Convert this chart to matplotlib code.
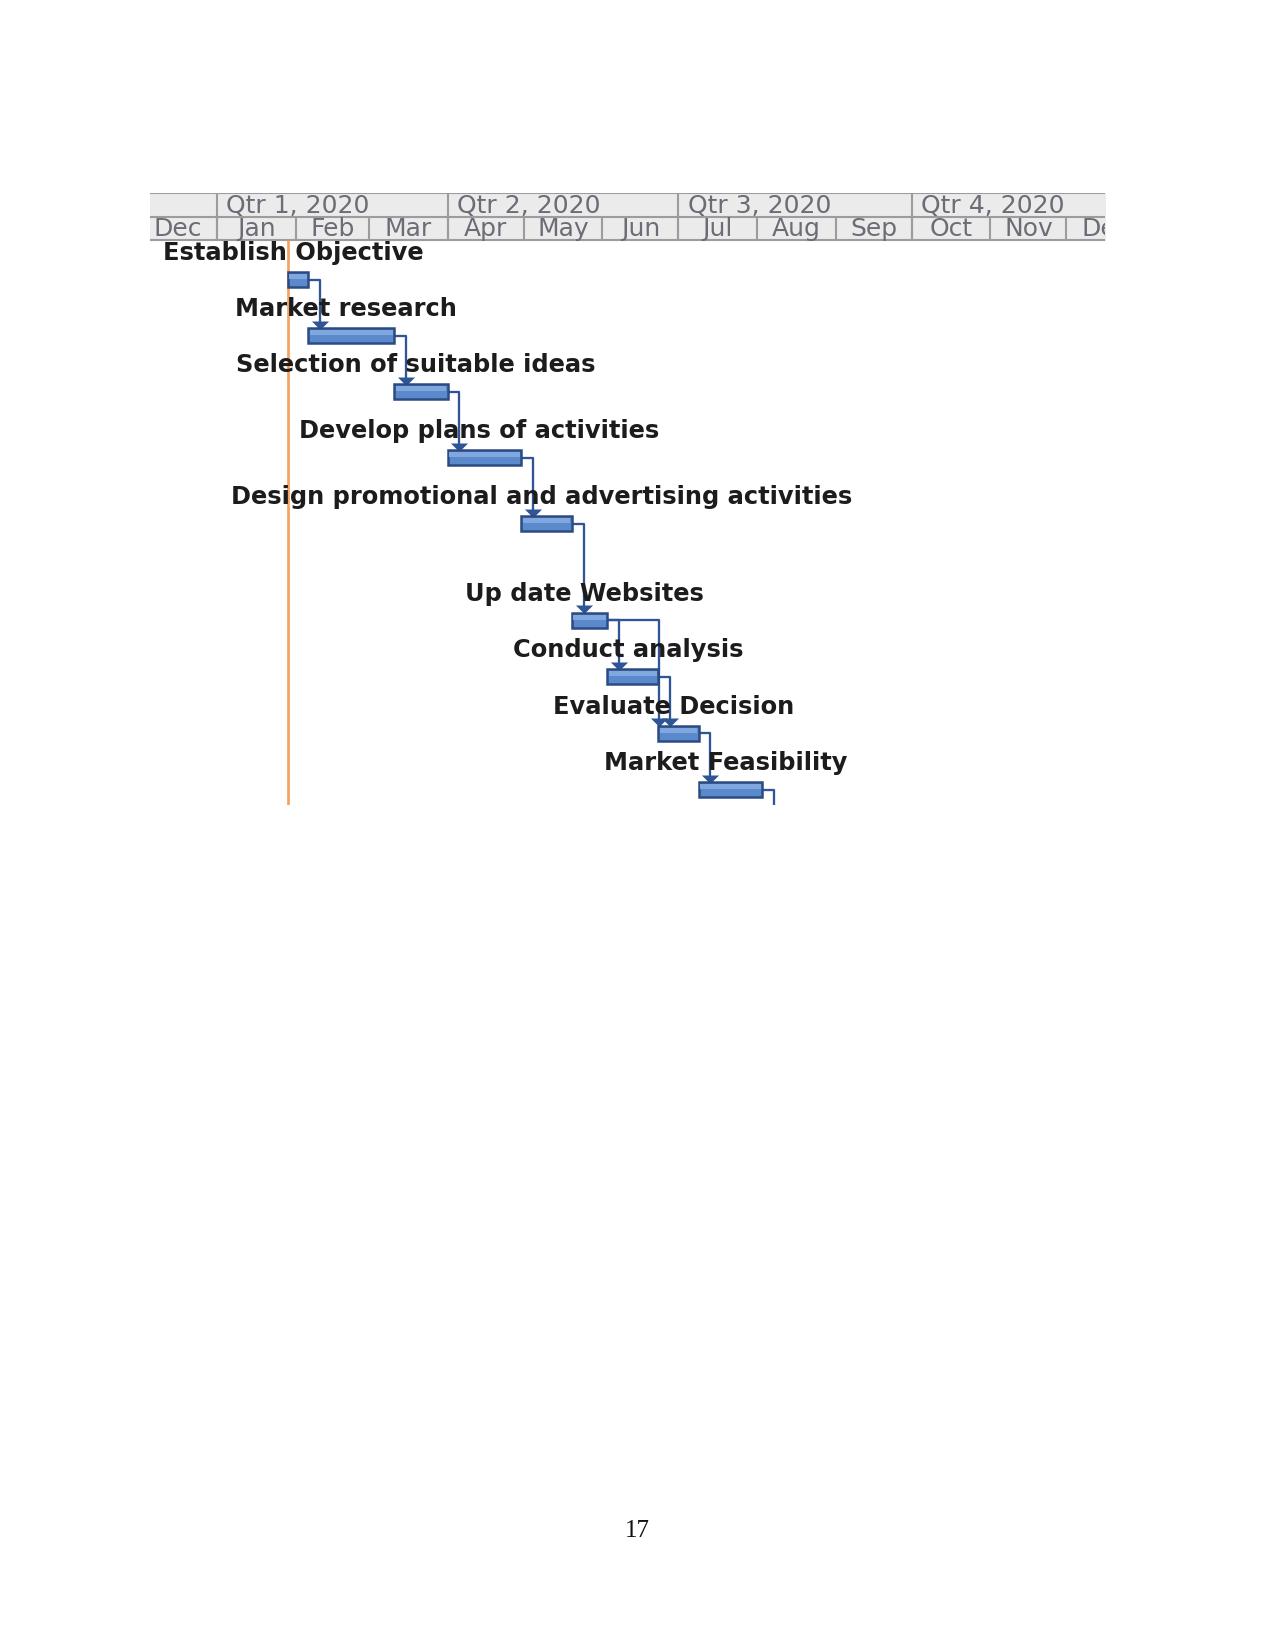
import matplotlib.pyplot as plt
import numpy as np
import pandas as pd

tasks = ['Establish Objective', 'Market research', 'Selection of suitable ideas',
         'Develop plans of activities', 'Design promotional and advertising activities',
         'Up date Websites', 'Conduct analysis', 'Evaluate Decision', 'Market Feasibility']
starts = ['2020-01-29', '2020-02-06', '2020-03-11', '2020-04-01', '2020-04-30',
          '2020-05-20', '2020-06-03', '2020-06-23', '2020-07-09']
finishes = ['2020-02-06', '2020-03-11', '2020-04-01', '2020-04-30', '2020-05-20',
            '2020-06-03', '2020-06-23', '2020-07-09', '2020-08-03']
# predecessor -> successor, None means the successor sits below the visible window
links = [(0, 1), (1, 2), (2, 3), (3, 4), (4, 5), (5, 6), (5, 7), (6, 7), (7, 8), (8, None)]
status_date = '2020-01-29'
quarter_labels = ['Qtr 4, 2019', 'Qtr 1, 2020', 'Qtr 2, 2020', 'Qtr 3, 2020', 'Qtr 4, 2020']
month_labels = ['Dec', 'Jan', 'Feb', 'Mar', 'Apr', 'May', 'Jun', 'Jul', 'Aug', 'Sep',
                'Oct', 'Nov', 'Dec']

# row centres in the gantt view (rows are not evenly spaced in the source)
row_y = [86.5, 142.5, 198.5, 264.5, 330.5, 427, 483.5, 540, 596.5]

base = pd.Timestamp('2020-01-01')


def to_day(d):
    return (pd.Timestamp(d) - base).days


start_d = np.array([to_day(d) for d in starts], dtype=float)
end_d = np.array([to_day(d) for d in finishes], dtype=float)
row_y = np.array(row_y)

BAR_H = 15
HDR_Q = 24
HDR_M = 47
BOTTOM = 612
LINK_OFF = 4.6
LINK_COLOR = '#2f5597'
HDR_TEXT = '#6c6c76'

fig = plt.figure(figsize=(8.5, 1651 / 150), dpi=150)
ax = fig.add_axes([150 / 1275, 1 - 805 / 1651, 955 / 1275, 612 / 1651])
ax.set_xlim(-26.4, 350.2)
ax.set_ylim(BOTTOM, 0)
ax.axis('off')

# ---- timescale header
ax.fill_between([-40, 400], 0, HDR_M, color='#ebebeb', zorder=1)
ax.hlines([0, HDR_Q, HDR_M], -40, 400, color='#9c9c9c', lw=1.0, zorder=2)
q_starts = pd.date_range('2019-10-01', periods=len(quarter_labels), freq='QS')
m_starts = pd.date_range('2019-12-01', periods=len(month_labels) + 1, freq='MS')
q_x = [to_day(d) for d in q_starts]
m_x = [to_day(d) for d in m_starts]
ax.vlines(q_x, 0, HDR_M, color='#9c9c9c', lw=1.0, zorder=2)
ax.vlines(m_x, HDR_Q, HDR_M, color='#9c9c9c', lw=1.0, zorder=2)
for x, lab in zip(q_x, quarter_labels):
    ax.text(x + 3.6, HDR_Q / 2 + 0.5, lab, ha='left', va='center', fontsize=12,
            color=HDR_TEXT, clip_on=True, zorder=3)
for x0, x1, lab in zip(m_x[:-1], m_x[1:], month_labels):
    ax.text((x0 + x1) / 2, (HDR_Q + HDR_M) / 2 + 0.5, lab, ha='center', va='center',
            fontsize=12, color=HDR_TEXT, clip_on=True, zorder=3)

# ---- status date line
ax.vlines(to_day(status_date), HDR_M, BOTTOM, color='#f4a261', lw=1.3, zorder=2)

# ---- links
for p, s in links:
    x0 = end_d[p]
    y0 = row_y[p]
    if s is None:
        xv = x0 + LINK_OFF
        ax.plot([x0, xv, xv], [y0, y0, BOTTOM], color=LINK_COLOR, lw=1.1, zorder=4,
                solid_joinstyle='round')
        continue
    if start_d[s] > x0 + LINK_OFF:
        xv = start_d[s] + 0.5
    else:
        xv = x0 + LINK_OFF
    y_top = row_y[s] - BAR_H / 2 - 7.5
    ax.plot([x0, xv, xv], [y0, y0, y_top], color=LINK_COLOR, lw=1.1, zorder=4,
            solid_joinstyle='round')
    ax.plot(xv, y_top, marker=[(-1, 0), (1, 0), (0, -1)], markersize=8.2,
            color=LINK_COLOR, markeredgewidth=0, zorder=5)

# ---- bars
dur = end_d - start_d
ax.barh(row_y, dur, left=start_d, height=BAR_H, color='#5a89cc',
        edgecolor='#2b4b82', linewidth=1.2, zorder=6)
ax.barh(row_y - 3, dur - 1.2, left=start_d + 0.6, height=5, color='#80a8de',
        linewidth=0, zorder=7)

# ---- task names above bars
for name, s, e, y in zip(tasks, start_d, end_d, row_y):
    ax.text((s + e) / 2 - 2, y - 26.5, name, ha='center', va='center', fontsize=11.6,
            fontweight='bold', color='#1c1c1c', zorder=8)

# page number
fig.text(637 / 1275, 1 - 1531 / 1651, '17', ha='center', va='center', fontsize=12,
         family='Liberation Serif', color='#111111')

fig.savefig('out.png', dpi=150, facecolor='white')
